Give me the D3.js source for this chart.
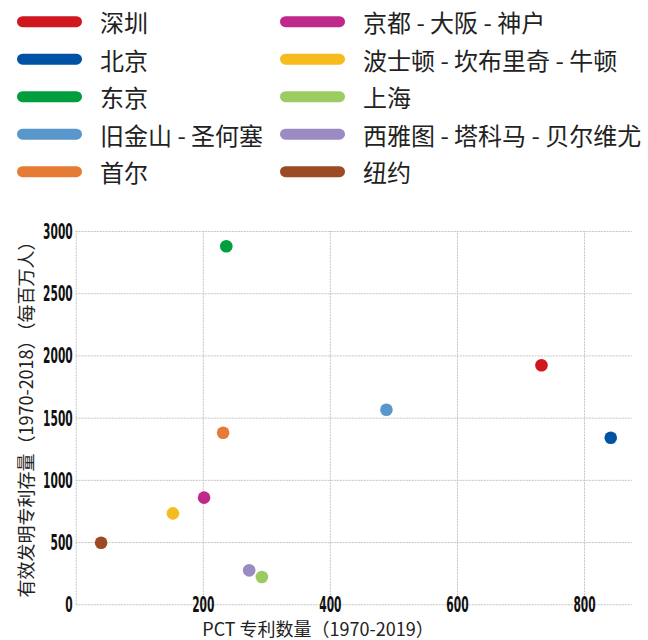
<!DOCTYPE html>
<html>
<head>
<meta charset="utf-8">
<script src="https://cdn.jsdelivr.net/npm/d3@7"></script>
<style>
  html, body { margin: 0; padding: 0; background: #fff; }
  svg { display: block; }
</style>
</head>
<body>
<svg id="chart" width="648" height="640"></svg>
<script>
// ---- data ----
const cities = ["深圳", "北京", "东京", "旧金山 - 圣何塞", "首尔",
                "京都 - 大阪 - 神户", "波士顿 - 坎布里奇 - 牛顿", "上海", "西雅图 - 塔科马 - 贝尔维尤", "纽约"];
const pctCounts = [733, 842, 237, 489, 232, 202, 153, 293, 273, 40];
const patentStock = [1921, 1339, 2877, 1564, 1379, 857, 731, 219, 273, 495];
const colors = ["#d0161f", "#0052a5", "#009e3d", "#5996cc", "#e57b35",
                "#c0288b", "#f6bb1c", "#9dcb63", "#9a8bc3", "#9b4a25"];
const xTicks = [0, 200, 400, 600, 800];
const yTicks = [0, 500, 1000, 1500, 2000, 2500, 3000];
const xTitle = "PCT 专利数量（1970-2019）";
const yTitle = "有效发明专利存量（1970-2018）（每百万人）";

// ---- layout ----
const svg = d3.select("#chart");
const mLeft = 75.7, mRight = 631.7, mTop = 231, mBottom = 604.3;
const x = d3.scaleLinear().domain([0, 875]).range([mLeft, mRight]);
const y = d3.scaleLinear().domain([0, 3000]).range([mBottom, mTop]);

const cjk = "'Noto Sans CJK SC', 'Noto Sans', sans-serif";
const tickFont = "'Liberation Sans Narrow', 'DejaVu Sans Condensed', 'Liberation Sans', sans-serif";
const gridColor = "#c4c4c4";

// ---- legend ----
const legend = svg.append("g");
cities.forEach((c, i) => {
  const col = Math.floor(i / 5), row = i % 5;
  const lx = col === 0 ? 22.5 : 285.5;
  const tx = col === 0 ? 100 : 363;
  const ly = 21.7 + row * 37.5;
  legend.append("line")
    .attr("x1", lx).attr("x2", lx + 54)
    .attr("y1", ly).attr("y2", ly)
    .attr("stroke", colors[i]).attr("stroke-width", 11)
    .attr("stroke-linecap", "round");
  legend.append("text")
    .attr("x", tx).attr("y", ly)
    .attr("dominant-baseline", "central")
    .attr("font-family", cjk).attr("font-size", 24)
    .attr("fill", "#222")
    .text(c);
});

// ---- axes / grid ----
const yAxis = svg.append("g")
  .attr("transform", `translate(${mLeft},0)`)
  .call(d3.axisLeft(y).tickValues(yTicks).tickSize(-(mRight - mLeft)).tickPadding(3).tickFormat(d3.format("d")));
yAxis.select(".domain").remove();

const xAxis = svg.append("g")
  .attr("transform", `translate(0,${mBottom})`)
  .call(d3.axisBottom(x).tickValues(xTicks).tickSize(-(mBottom - mTop)).tickFormat(d => d === 0 ? "" : d));
xAxis.select(".domain").remove();

[yAxis, xAxis].forEach(g => {
  g.selectAll(".tick line")
    .attr("stroke", gridColor).attr("stroke-width", 1)
    .attr("stroke-dasharray", "2,1");
  g.selectAll(".tick text")
    .attr("font-family", tickFont).attr("font-weight", "bold")
    .attr("font-size", 21).attr("fill", "#111")
    .each(function() {
      const t = d3.select(this);
      const s = t.text();
      if (s.length) t.attr("textLength", s.length * 7.4).attr("lengthAdjust", "spacingAndGlyphs");
    });
});
yAxis.selectAll(".tick text").attr("dy", "0.36em");
xAxis.selectAll(".tick text").attr("y", 0).attr("dy", "0.36em");

// ---- points ----
svg.append("g").selectAll("circle")
  .data(cities.map((c, i) => ({ c, px: pctCounts[i], py: patentStock[i], col: colors[i] })))
  .join("circle")
  .attr("cx", d => x(d.px))
  .attr("cy", d => y(d.py))
  .attr("r", 6.3)
  .attr("fill", d => d.col);

// ---- axis titles ----
svg.append("text")
  .attr("x", 318).attr("y", 628)
  .attr("text-anchor", "middle").attr("dominant-baseline", "central")
  .attr("font-family", cjk).attr("font-size", 18).attr("fill", "#222")
  .text(xTitle);

svg.append("text")
  .attr("transform", `translate(25,415) rotate(-90)`)
  .attr("text-anchor", "middle").attr("dominant-baseline", "central")
  .attr("font-family", cjk).attr("font-size", 18).attr("fill", "#222")
  .text(yTitle);
</script>
</body>
</html>
